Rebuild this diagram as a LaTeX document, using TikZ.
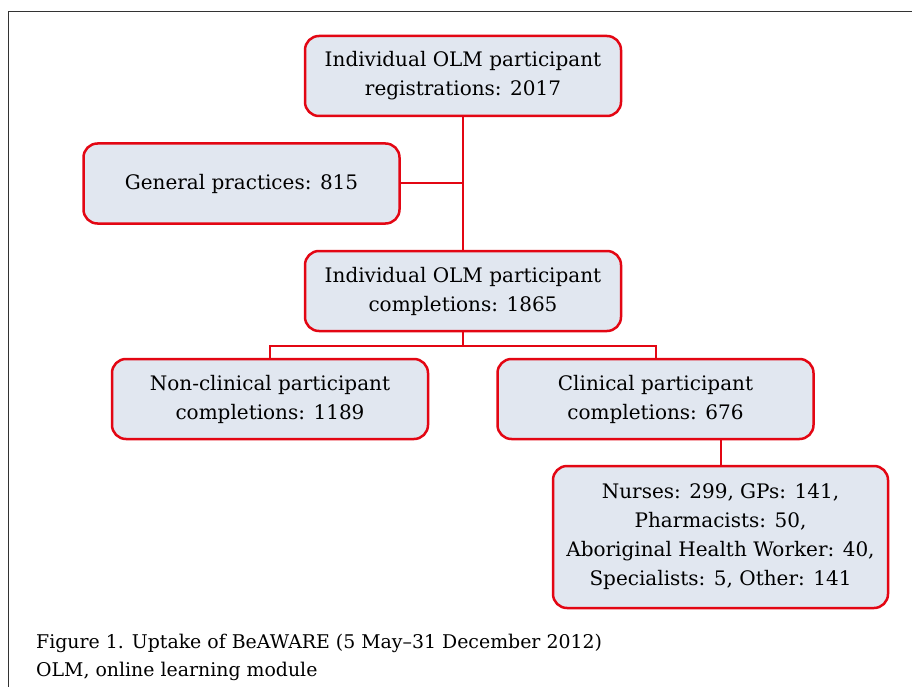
\documentclass[tikz,border=0pt]{standalone}
\usepackage{fontspec}
\setmainfont{DejaVu Serif}
\usepackage{xcolor}
\usepackage{tikz}
\usetikzlibrary{positioning, calc}

\definecolor{boxred}{HTML}{E30613}
\definecolor{boxfill}{HTML}{E1E7F0}

\begin{document}
\begin{tikzpicture}[x=1pt, y=-1pt,
    box/.style={draw=boxred, fill=boxfill, line width=2.5pt, rounded corners=14pt,
                minimum width=316pt, minimum height=80pt, align=center,
                font=\fontsize{20}{29}\selectfont, inner sep=0pt},
    link/.style={draw=boxred, line width=2pt}]
    \useasboundingbox (0,0) rectangle (912,687);
    % frame
    \draw[line width=1pt, black!80] (912,12) -- (8,12) -- (8,687);
    % boxes
    \node[box] (reg) at (463,76) {Individual OLM participant\\registrations: 2017};
    \node[box] (gp) at (241.5,183.5) {General practices: 815};
    \node[box] (comp) at (463,291) {Individual OLM participant\\completions: 1865};
    \node[box] (nonclin) at (270,399) {Non-clinical participant\\completions: 1189};
    \node[box] (clin) at (655.5,399) {Clinical participant\\completions: 676};
    \node[box, minimum width=335pt, minimum height=142pt] (staff) at (720.5,537)
        {Nurses: 299, GPs: 141,\\Pharmacists: 50,\\Aboriginal Health Worker: 40,\\Specialists: 5, Other: 141};
    % connectors
    \draw[link] (reg.south) -- (comp.north);
    \draw[link] (gp.east) -- (gp.east -| reg.south);
    \draw[link] (comp.south) -- ++(0,14) -| (nonclin.north);
    \draw[link] (comp.south) -- ++(0,14) -| (clin.north);
    \draw[link] (clin.south -| staff.north) -- (staff.north);
    % caption
    \node[anchor=base west, inner sep=0pt, font=\fontsize{18.9}{28}\selectfont] (cap1) at (36,648)
        {Figure 1. Uptake of BeAWARE (5 May--31 December 2012)};
    \node[anchor=base west, inner sep=0pt, font=\fontsize{18.9}{28}\selectfont] (cap2) at (36,676)
        {OLM, online learning module};
\end{tikzpicture}
\end{document}
